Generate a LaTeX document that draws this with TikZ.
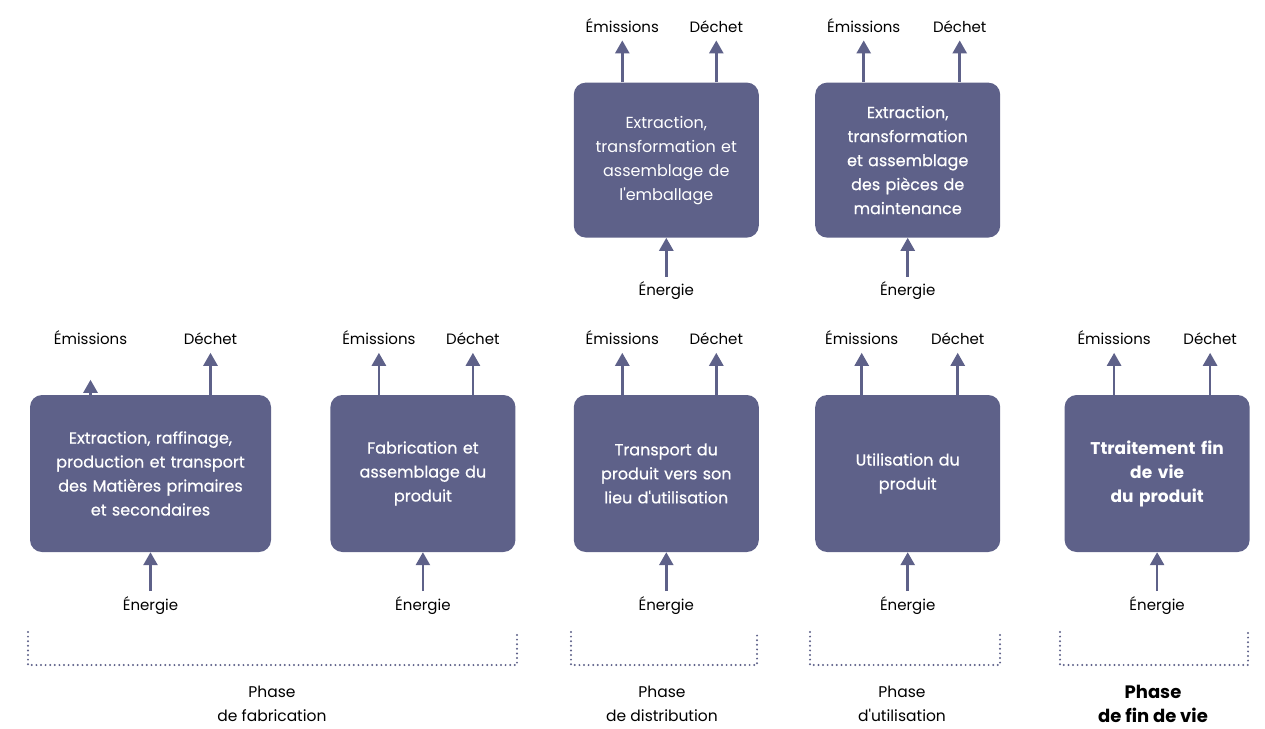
\documentclass[tikz,border=0pt]{standalone}
\usepackage{fontspec}
\setmainfont{Poppins}
\newfontfamily\stagefont[FakeBold=0.6]{Poppins}
\usepackage{tikz}
\usetikzlibrary{positioning}
\usetikzlibrary{arrows.meta}
\definecolor{stagefill}{RGB}{94,97,137}
\definecolor{stagedots}{RGB}{94,97,137}
\tikzset{
	stage/.style={
		fill=stagefill, text=white, rounded corners=12pt,
		inner xsep=0pt, inner ysep=0pt, text width=#1, align=center,
		minimum height=157pt, font=\stagefont\fontsize{16}{24}\selectfont
	},
	stage/.default=185pt,
	flow/.style={
		-{Triangle[width=14pt,length=13pt]}, line width=2.6pt, draw=stagefill
	},
	flowlabel/.style={
		inner sep=0pt, font=\fontsize{15}{18}\selectfont
	},
	phase/.style={
		draw=stagedots, line width=2.2pt, line cap=round,
		dash pattern=on 0pt off 4.6pt
	},
	phaselabel/.style={
		align=center, font=\fontsize{15.5}{24}\selectfont
	}
}
% labels and arrows round one stage box
\newcommand\stageflows[3]{%
	\node[flowlabel, anchor=base] (#1-em) at ([xshift=#2pt, yshift=50pt]#1.north) {Émissions};
	\node[flowlabel, anchor=base] (#1-de) at ([xshift=#3pt, yshift=50pt]#1.north) {Déchet};
	\node[flowlabel, anchor=north] (#1-en) at ([yshift=-44pt]#1.south) {Énergie};
	\draw[flow] (#1-de.base |- #1.north) -- ([yshift=-8pt]#1-de.base);
	\draw[flow] ([yshift=5pt]#1-en.north) -- (#1-en.north |- #1.south);
}

\begin{document}
\begin{tikzpicture}[x=1pt, y=-1pt]
	\useasboundingbox (0,0) rectangle (1265,728);

	% stages
	\node[stage=241pt] (fab) at (150.5,473.5) {Extraction, raffinage,\\production et transport\\des Matières primaires\\et secondaires};
	\node[stage, right=59pt of fab] (assem) {Fabrication et\\assemblage du\\produit};
	\node[stage, right=58pt of assem] (transp) {Transport du\\produit vers son\\lieu d\textquotesingle utilisation};
	\node[stage, right=56pt of transp] (usage) {Utilisation du\\produit};
	\node[stage, right=64pt of usage, font=\fontsize{17}{24}\selectfont\bfseries] (eol) {Ttraitement fin\\de vie\\du produit};
	\node[stage, minimum height=155pt, above=157pt of transp, font=\fontsize{16}{24}\selectfont] (pack) {Extraction,\\transformation et\\assemblage de\\l\textquotesingle emballage};
	\node[stage, minimum height=155pt, above=157pt of usage] (maint) {Extraction,\\transformation\\et assemblage\\des pièces de\\maintenance};

	\stageflows{fab}{-60}{60}
	\stageflows{assem}{-44}{50}
	\stageflows{transp}{-44}{50}
	\stageflows{usage}{-46}{50}
	\stageflows{eol}{-43}{53}
	\stageflows{pack}{-44}{50}
	\stageflows{maint}{-44}{52}

	\foreach \s in {assem,transp,usage,eol,pack,maint}
		\draw[flow] (\s-em.base |- \s.north) -- ([yshift=-8pt]\s-em.base);
	\path (fab-em.base |- fab.north) ++(0,-15) coordinate (fab-stub);
	\draw[flow] (fab-em.base |- fab.north) -- (fab-stub);

	% phases
	\coordinate (ph1-l) at (28,632);   \coordinate (ph1-r) at (517,632);
	\coordinate (ph2-l) at (571,632);  \coordinate (ph2-r) at (757,632);
	\coordinate (ph3-l) at (810,632);  \coordinate (ph3-r) at (1000,632);
	\coordinate (ph4-l) at (1060,632); \coordinate (ph4-r) at (1248,632);
	\foreach \p in {ph1,ph2,ph3,ph4}
		\draw[phase] (\p-l) -- ++(0,33) -| (\p-r);

	\node[phaselabel] (ph1-txt) at (272,704) {Phase\\de fabrication};
	\node[phaselabel] (ph2-txt) at (662,704) {Phase\\de distribution};
	\node[phaselabel] (ph3-txt) at (902,704) {Phase\\d\textquotesingle utilisation};
	\node[phaselabel, font=\fontsize{18}{24}\selectfont\bfseries] (ph4-txt) at (1153,704) {Phase\\de fin de vie};
\end{tikzpicture}
\end{document}
